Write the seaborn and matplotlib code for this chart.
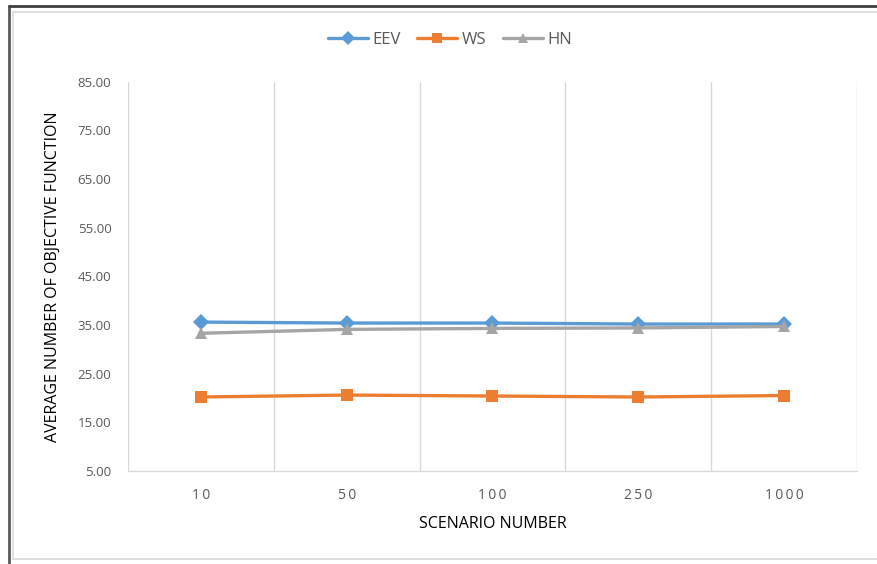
import matplotlib
matplotlib.use("Agg")
import matplotlib.pyplot as plt
from matplotlib.lines import Line2D
from matplotlib.ticker import FixedLocator
import seaborn as sns
import pandas as pd

# Scenario counts and the average objective value of each method
scenarios = ["10", "50", "100", "250", "1000"]
eev = [35.6, 35.4, 35.4, 35.2, 35.2]
ws = [20.2, 20.6, 20.4, 20.2, 20.5]
hn = [33.3, 34.1, 34.3, 34.4, 34.7]
y_ticks = [5, 15, 25, 35, 45, 55, 65, 75, 85]

series = {"EEV": eev, "WS": ws, "HN": hn}
colors = {"EEV": "#5B9BD5", "WS": "#ED7D31", "HN": "#A5A5A5"}
markers = {"EEV": "D", "WS": "s", "HN": "^"}

df = pd.DataFrame(
    [(s, name, v) for name, vals in series.items() for s, v in zip(scenarios, vals)],
    columns=["scenario", "method", "value"],
)
df["scenario"] = pd.Categorical(df["scenario"], categories=scenarios, ordered=True)

sns.set_style("white")
plt.rcParams["font.family"] = ["Open Sans", "DejaVu Sans"]

fig = plt.figure(figsize=(8.77, 5.64), dpi=100)
ax = fig.add_axes([0.146, 0.165, 0.831, 0.69])

sns.lineplot(
    data=df, x="scenario", y="value", hue="method", style="method",
    palette=colors, markers=markers, dashes=False, sort=False,
    linewidth=2.4, markersize=8, markeredgewidth=0, ax=ax, legend=False,
)

ax.set_xlim(-0.5, len(scenarios) - 0.5)
ax.set_ylim(y_ticks[0], y_ticks[-1])
ax.set_yticks(y_ticks)
ax.set_yticklabels([f"{t:.2f}" for t in y_ticks])
ax.set_xticks(range(len(scenarios)))
# letter-spaced category labels
ax.set_xticklabels(["\u2009".join(s) for s in scenarios])
ax.xaxis.set_minor_locator(FixedLocator([i - 0.5 for i in range(len(scenarios) + 1)]))
ax.grid(False)
ax.grid(True, which="minor", axis="x", color="#D9D9D9", linewidth=1)
ax.tick_params(axis="both", which="both", length=0, colors="#595959", labelsize=9.5)
ax.tick_params(axis="x", labelsize=10, pad=12)
ax.tick_params(axis="y", pad=12)

for side in ["top", "right", "left"]:
    ax.spines[side].set_visible(False)
ax.spines["bottom"].set_color("#D9D9D9")
ax.spines["bottom"].set_linewidth(1)

ax.set_xlabel("SCENARIO NUMBER", fontsize=11.5, color="#000000", labelpad=10)
ax.set_ylabel("AVERAGE NUMBER OF OBJECTIVE FUNCTION", fontsize=11.5, color="#000000",
              labelpad=12)

handles = [
    Line2D([], [], color=colors[n], marker=markers[n], linewidth=2.4,
           markersize=7, markeredgewidth=0)
    for n in series
]
leg = fig.legend(
    handles, list(series), loc="center", bbox_to_anchor=(0.513, 0.929), ncol=3,
    frameon=False, fontsize=12, handlelength=2.4, columnspacing=1.0,
    handletextpad=0.25,
)
for t in leg.get_texts():
    t.set_color("#595959")

# Chart frame
W, H = 877, 564
fig.add_artist(Line2D([8.5 / W, 8.5 / W], [0, 1 - 5.5 / H], color="#595959", lw=2,
                      transform=fig.transFigure))
fig.add_artist(Line2D([8.5 / W, 1], [1 - 5.5 / H, 1 - 5.5 / H], color="#404040", lw=2,
                      transform=fig.transFigure))
fig.add_artist(Line2D([12.5 / W, 12.5 / W], [1 - 559 / H, 1 - 11.5 / H], color="#D9D9D9",
                      lw=1.2, transform=fig.transFigure))
fig.add_artist(Line2D([12.5 / W, 1], [1 - 11.5 / H, 1 - 11.5 / H], color="#D9D9D9",
                      lw=1.2, transform=fig.transFigure))
fig.add_artist(Line2D([12.5 / W, 1], [1 - 559 / H, 1 - 559 / H], color="#D9D9D9",
                      lw=1.2, transform=fig.transFigure))

fig.savefig("out.png", dpi=100)
